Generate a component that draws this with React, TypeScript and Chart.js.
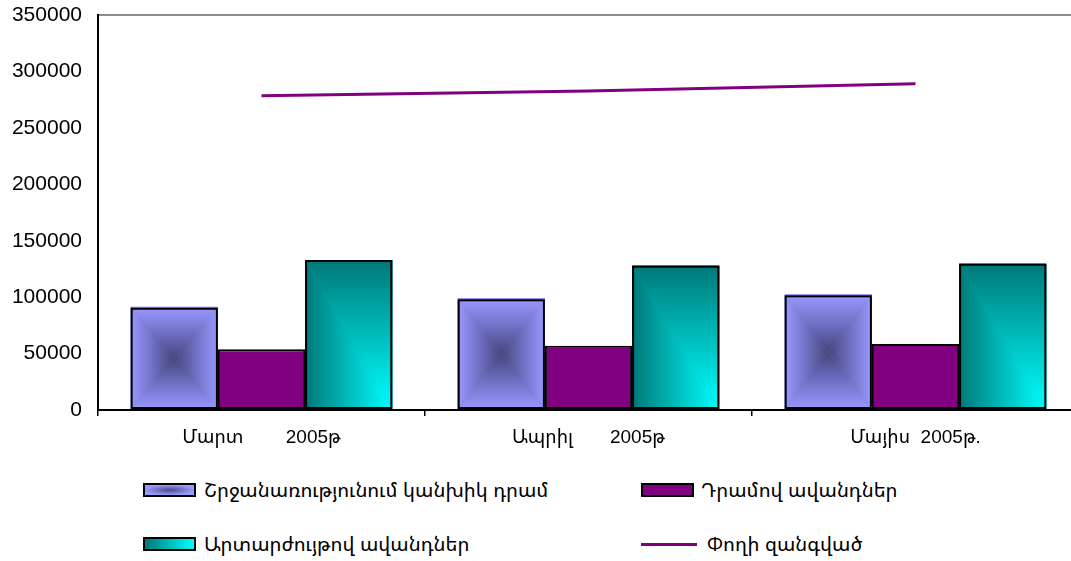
import React, { useEffect, useRef } from "react";
import { Chart, registerables } from "chart.js";

Chart.register(...registerables);

// ---------- data ----------
const categories = ["Մարտ        2005թ", "Ապրիլ       2005թ", "Մայիս  2005թ."];
const cashInCirculation = [90600, 98100, 101600];
const dramDeposits = [53800, 57000, 58500];
const fxDeposits = [132900, 127900, 129600];
const broadMoney = [278500, 282700, 289100];
const seriesNames = [
  "Շրջանառությունում կանխիկ դրամ",
  "Դրամով ավանդներ",
  "Արտարժույթով ավանդներ",
  "Փողի զանգված",
];
const yMin = 0;
const yMax = 350000;
const yStep = 50000;

const FONT = "'Liberation Sans', Arial, 'Noto Sans Armenian', 'DejaVu Sans', sans-serif";

function fillTri(ctx: CanvasRenderingContext2D, pts: number[][], style: any) {
  ctx.beginPath();
  ctx.moveTo(pts[0][0], pts[0][1]);
  for (let i = 1; i < pts.length; i++) ctx.lineTo(pts[i][0], pts[i][1]);
  ctx.closePath();
  ctx.fillStyle = style;
  ctx.fill();
}

function cashStops(g: CanvasGradient) {
  g.addColorStop(0, "#45457b");
  g.addColorStop(0.5, "#7070c4");
  g.addColorStop(1, "#9999ff");
  return g;
}

function drawCashFill(ctx: CanvasRenderingContext2D, l: number, t: number, r: number, b: number) {
  const cx = (l + r) / 2;
  const cy = (t + b) / 2;
  ctx.fillStyle = "#7a7ad0";
  ctx.fillRect(l, t, r - l, b - t);
  fillTri(ctx, [[l, t], [r, t], [cx, cy]], cashStops(ctx.createLinearGradient(0, cy, 0, t)));
  fillTri(ctx, [[l, b], [r, b], [cx, cy]], cashStops(ctx.createLinearGradient(0, cy, 0, b)));
  fillTri(ctx, [[l, t], [l, b], [cx, cy]], cashStops(ctx.createLinearGradient(cx, 0, l, 0)));
  fillTri(ctx, [[r, t], [r, b], [cx, cy]], cashStops(ctx.createLinearGradient(cx, 0, r, 0)));
}

function tealStops(g: CanvasGradient) {
  g.addColorStop(0, "#00ffff");
  g.addColorStop(1, "#007878");
  return g;
}

function drawTealFill(ctx: CanvasRenderingContext2D, l: number, t: number, r: number, b: number) {
  ctx.fillStyle = "#00a8a8";
  ctx.fillRect(l, t, r - l, b - t);
  fillTri(ctx, [[r, b], [l, b], [l, t]], tealStops(ctx.createLinearGradient(r, 0, l, 0)));
  fillTri(ctx, [[r, b], [l, t], [r, t]], tealStops(ctx.createLinearGradient(0, b, 0, t)));
}

const gradientBarsPlugin = {
  id: "gradientBars",
  afterDatasetDraw(chart: any, args: any) {
    const ds = chart.data.datasets[args.index];
    const kind = ds.gradientKind;
    if (!kind) return;
    const ctx: CanvasRenderingContext2D = chart.ctx;
    ctx.save();
    args.meta.data.forEach((el: any) => {
      const p = el.getProps(["x", "y", "base", "width"], true);
      const l = p.x - p.width / 2;
      const r = p.x + p.width / 2;
      const t = Math.min(p.y, p.base);
      const b = Math.max(p.y, p.base);
      if (kind === "cash") {
        ctx.fillStyle = "#6a6aff";
        ctx.fillRect(l, t - 1, r - l, 1);
        drawCashFill(ctx, l, t, r, b);
      } else {
        drawTealFill(ctx, l, t, r, b);
      }
      ctx.lineWidth = 2;
      ctx.strokeStyle = "#000000";
      ctx.strokeRect(l + 1, t + 1, r - l - 2, b - t - 2);
    });
    ctx.restore();
  },
};

export default function App() {
  const canvasRef = useRef<HTMLCanvasElement | null>(null);

  useEffect(() => {
    const canvas = canvasRef.current;
    if (!canvas) return;
    const chart = new Chart(canvas, {
      type: "bar",
      data: {
        labels: categories,
        datasets: [
          {
            label: seriesNames[0],
            data: cashInCirculation,
            backgroundColor: "#9999ff",
            borderWidth: 0,
            gradientKind: "cash",
            barPercentage: 1,
            categoryPercentage: 0.8,
          } as any,
          {
            label: seriesNames[1],
            data: dramDeposits,
            backgroundColor: "#800080",
            borderColor: "#000000",
            borderWidth: 2,
            borderSkipped: false,
            barPercentage: 1,
            categoryPercentage: 0.8,
          },
          {
            label: seriesNames[2],
            data: fxDeposits,
            backgroundColor: "#00a0a0",
            borderWidth: 0,
            gradientKind: "teal",
            barPercentage: 1,
            categoryPercentage: 0.8,
          } as any,
          {
            type: "line",
            label: seriesNames[3],
            data: broadMoney,
            borderColor: "#800080",
            backgroundColor: "#800080",
            borderWidth: 3,
            pointRadius: 0,
            tension: 0,
            order: -1,
          } as any,
        ],
      },
      options: {
        responsive: false,
        animation: false,
        layout: { padding: { top: 15, left: 0, right: 0, bottom: 0 } },
        plugins: {
          legend: { display: false },
          tooltip: { enabled: false },
          title: { display: false },
        },
        scales: {
          x: {
            grid: {
              display: true,
              offset: true,
              drawOnChartArea: false,
              drawTicks: true,
              tickLength: 6,
              color: "#000000",
              lineWidth: 1.5,
            },
            border: { display: true, color: "#000000", width: 2 },
            ticks: {
              color: "#000000",
              font: { family: FONT, size: 19 },
              padding: 10,
              maxRotation: 0,
              autoSkip: false,
            },
            afterFit: (s: any) => {
              s.height = 60;
              s.paddingLeft = 0;
              s.paddingRight = 0;
            },
          },
          y: {
            min: yMin,
            max: yMax,
            grid: {
              drawTicks: false,
              color: (c: any) => (c.tick && c.tick.value === yMax ? "#8c8c8c" : "rgba(0,0,0,0)"),
              lineWidth: 2,
            },
            border: { display: true, color: "#000000", width: 2 },
            ticks: {
              stepSize: yStep,
              color: "#000000",
              font: { family: FONT, size: 21 },
              padding: 16,
              callback: (v: any) => String(v),
            },
            afterFit: (s: any) => {
              s.width = 98;
              s.paddingTop = 0;
              s.paddingBottom = 0;
            },
          },
        },
      },
      plugins: [gradientBarsPlugin],
    });
    return () => chart.destroy();
  }, []);

  const textStyle: React.CSSProperties = {
    position: "absolute",
    fontFamily: FONT,
    fontSize: 20,
    color: "#000",
    lineHeight: "22px",
    whiteSpace: "pre",
  };
  const boxBase: React.CSSProperties = {
    position: "absolute",
    width: 53,
    height: 14,
    border: "2px solid #000",
    boxSizing: "border-box",
  };

  return (
    <div
      style={{
        position: "fixed",
        left: 0,
        top: 0,
        width: 1071,
        height: 561,
        overflow: "hidden",
        background: "#ffffff",
      }}
    >
      <canvas
        ref={canvasRef}
        width={1079}
        height={470}
        style={{ position: "absolute", left: 0, top: 0, width: 1079, height: 470 }}
      />
      {/* legend row 1 */}
      <div
        style={{
          ...boxBase,
          left: 143,
          top: 483,
          background: "radial-gradient(ellipse 50% 50% at center, #4a4a85 0%, #9999ff 100%)",
        }}
      />
      <div style={{ ...textStyle, left: 204, top: 479 }}>{seriesNames[0]}</div>
      <div style={{ ...boxBase, left: 641, top: 483, background: "#800080" }} />
      <div style={{ ...textStyle, left: 701, top: 479 }}>{seriesNames[1]}</div>
      {/* legend row 2 */}
      <div
        style={{
          ...boxBase,
          left: 143,
          top: 537,
          background: "linear-gradient(to right, #007878, #00ffff)",
        }}
      />
      <div style={{ ...textStyle, left: 204, top: 533 }}>{seriesNames[2]}</div>
      <div
        style={{
          position: "absolute",
          left: 641,
          top: 543,
          width: 56,
          height: 3,
          background: "#800080",
        }}
      />
      <div style={{ ...textStyle, left: 707, top: 533 }}>{seriesNames[3]}</div>
    </div>
  );
}
